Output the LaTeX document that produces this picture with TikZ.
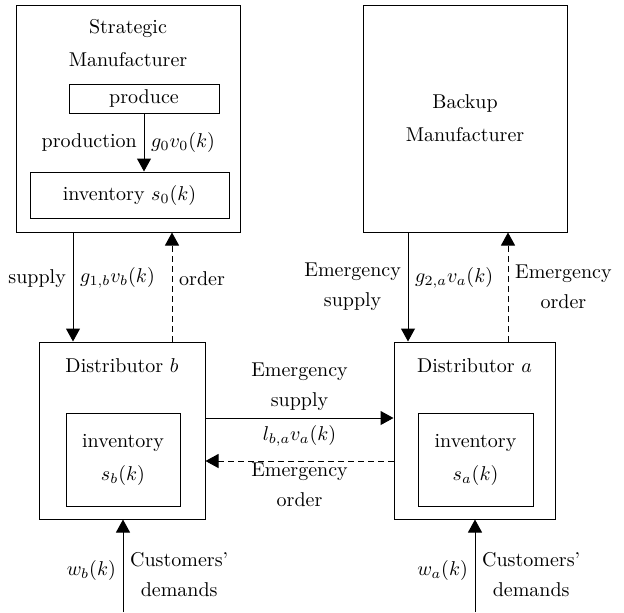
\documentclass[tikz,border=0pt]{standalone}
\usepackage{tikz}
\usetikzlibrary{arrows.meta, positioning}
\tikzset{
  box/.style={draw, line width=0.5pt, inner sep=0pt},
  lbl/.style={align=center, font={\linespread{1.25}\selectfont}},
  flow/.style={line width=0.5pt, -{Triangle[length=6.5pt, width=7pt]}},
  req/.style={flow, dash pattern=on 3pt off 2pt},
}

\begin{document}
\begin{tikzpicture}[x=0.5pt, y=-0.5pt]
  \useasboundingbox (0,0) rectangle (624,612);

  % manufacturers
  \node [box, minimum width=112pt, minimum height=113.5pt] (sm) at (128,118.5) {};
  \node [lbl, below=4pt of sm.north] (smt) {Strategic\\[1.5pt] Manufacturer};
  \node [box, minimum width=75pt, minimum height=14.5pt] (prod) at (144,98.5) {produce};
  \node [box, minimum width=99.5pt, minimum height=23pt] (inv0) at (129.5,195) {inventory $s_0(k)$};
  \node [box, lbl, minimum width=102pt, minimum height=113.5pt] (bm) at (465,118.5) {Backup\\[1.5pt] Manufacturer};

  % distributors
  \node [box, minimum width=83pt, minimum height=88.5pt] (db) at (122,430.5) {};
  \node [below=5pt of db.north] (dbt) {Distributor $b$};
  \node [box, lbl, minimum width=57pt, minimum height=46.5pt] (invb) at (123,459.5) {inventory\\[1.5pt] $s_b(k)$};
  \node [box, minimum width=80.5pt, minimum height=88.5pt] (da) at (474.5,430.5) {};
  \node [below=5pt of da.north] (dat) {Distributor $a$};
  \node [box, lbl, minimum width=57.5pt, minimum height=46.5pt] (inva) at (475.5,459.5) {inventory\\[1.5pt] $s_a(k)$};

  \coordinate (wb) at (123,612);
  \coordinate (wa) at (475,612);

  \draw [flow] (prod.south) -- (inv0.north -| prod.south)
        node [midway, left] {production} node [midway, right] {$g_0v_0(k)$};

  \draw [flow] (sm.south -| 73,0) -- (db.north -| 73,0)
        node [pos=0.42, left] {supply} node [pos=0.42, right] {$g_{1,b}v_b(k)$};
  \draw [req] (db.north -| 172,0) -- (sm.south -| 172,0)
        node [pos=0.58, right] {order};

  \draw [flow] (bm.south -| 408,0) -- (da.north -| 408,0)
        node [midway, left, lbl] {Emergency\\supply}
        node [pos=0.42, right] {$g_{2,a}v_a(k)$};
  \draw [req] (da.north -| 508,0) -- (bm.south -| 508,0)
        node [midway, right, lbl] {Emergency\\order};

  \draw [flow] (db.east |- 0,418) -- (da.west |- 0,418)
        node [midway, above, lbl] {Emergency\\supply}
        node [midway, below] {$l_{b,a}v_a(k)$};
  \draw [req] (da.west |- 0,461) -- (db.east |- 0,461)
        node [midway, below, lbl, yshift=2.5pt] {Emergency\\order};

  \draw [flow] (wb) -- (wb |- db.south)
        node [pos=0.45, left] {$w_b(k)$} node [pos=0.4, right, lbl] {Customers'\\demands};
  \draw [flow] (wa) -- (wa |- da.south)
        node [pos=0.45, left] {$w_a(k)$} node [pos=0.4, right, lbl] {Customers'\\demands};
\end{tikzpicture}
\end{document}
